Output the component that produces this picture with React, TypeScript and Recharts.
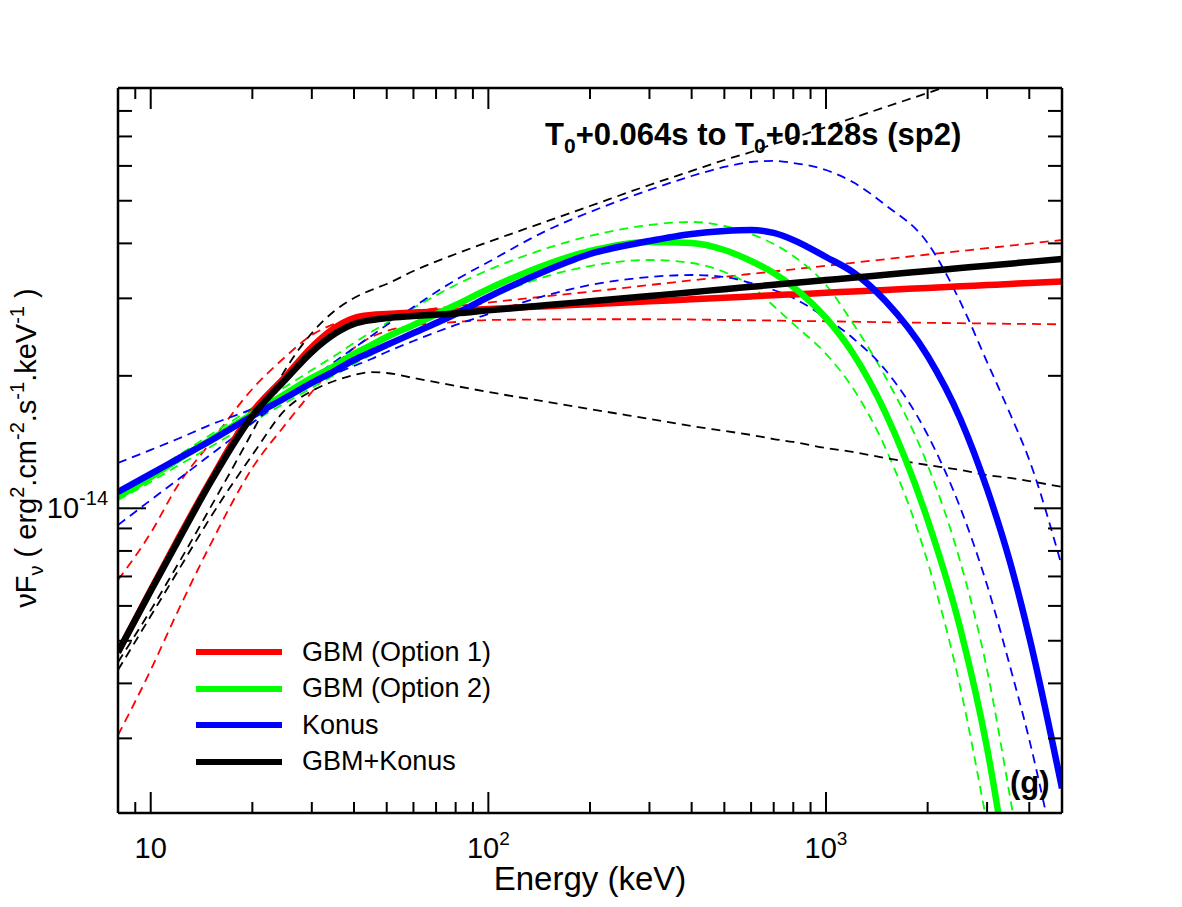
import React from 'react';
import { LineChart, Line, XAxis, YAxis, Legend } from 'recharts';

// energy grid (keV)
const energy = [8, 10, 12, 15, 20, 25, 30, 35, 40, 45, 50, 60, 80, 100, 150, 200, 300, 400, 500, 600, 700, 800, 1000, 1200, 1500, 2000, 2500, 3000, 3500, 4000, 5000];

// nuFnu in units of 1e-14 erg^2 cm^-2 s^-1 keV^-1
const gbm1 = [0.471, 0.652, 0.847, 1.153, 1.655, 1.988, 2.326, 2.570, 2.707, 2.750, 2.764, 2.785, 2.809, 2.838, 2.880, 2.910, 2.954, 2.985, 3.010, 3.031, 3.049, 3.063, 3.089, 3.110, 3.136, 3.169, 3.195, 3.216, 3.234, 3.251, 3.277];
const gbm1Hi = [0.687, 0.879, 1.124, 1.407, 1.867, 2.207, 2.477, 2.624, 2.707, 2.750, 2.779, 2.811, 2.880, 2.935, 3.035, 3.107, 3.217, 3.296, 3.359, 3.410, 3.453, 3.493, 3.557, 3.614, 3.681, 3.774, 3.842, 3.901, 3.952, 3.996, 4.072];
const gbm1Lo = [0.305, 0.429, 0.581, 0.825, 1.235, 1.547, 1.838, 2.106, 2.314, 2.451, 2.529, 2.603, 2.651, 2.679, 2.686, 2.689, 2.689, 2.686, 2.679, 2.675, 2.671, 2.666, 2.661, 2.655, 2.648, 2.640, 2.634, 2.630, 2.626, 2.624, 2.619];

const gbm2 = [1.061, 1.178, 1.288, 1.430, 1.638, 1.819, 1.978, 2.106, 2.243, 2.350, 2.451, 2.610, 2.897, 3.151, 3.592, 3.844, 4.030, 4.009, 3.864, 3.648, 3.426, 3.184, 2.707, 2.254, 1.647, 0.941, 0.532, 0.285, 0.140, null, null];
const gbm2Hi = [1.083, 1.203, 1.315, 1.468, 1.690, 1.887, 2.062, 2.219, 2.375, 2.516, 2.637, 2.853, 3.217, 3.480, 3.905, 4.158, 4.404, 4.474, 4.381, 4.202, 3.987, 3.744, 3.217, 2.637, 1.988, 1.254, 0.755, 0.429, 0.223, 0.122, null];
const gbm2Lo = [1.044, 1.148, 1.248, 1.378, 1.571, 1.735, 1.877, 2.009, 2.128, 2.230, 2.326, 2.489, 2.779, 3.006, 3.373, 3.553, 3.667, 3.610, 3.444, 3.200, 2.883, 2.624, 2.243, 1.877, 1.371, 0.755, 0.391, 0.191, null, null, null];

const konus = [1.089, 1.197, 1.294, 1.422, 1.621, 1.781, 1.927, 2.051, 2.173, 2.266, 2.350, 2.502, 2.764, 3.021, 3.480, 3.784, 4.050, 4.202, 4.268, 4.291, 4.224, 4.072, 3.725, 3.444, 2.959, 2.219, 1.596, 1.106, 0.759, 0.510, 0.231];
const konusA = [1.268, 1.357, 1.437, 1.547, 1.681, 1.809, 1.916, 2.020, 2.106, 2.184, 2.266, 2.400, 2.610, 2.764, 3.053, 3.217, 3.355, 3.390, 3.355, 3.251, 3.134, 3.006, 2.707, 2.438, 2.062, 1.468, 1.002, 0.669, 0.440, 0.298, 0.136];
const konusB = [0.916, 1.044, 1.160, 1.322, 1.563, 1.781, 1.978, 2.150, 2.314, 2.464, 2.610, 2.867, 3.303, 3.629, 4.291, 4.714, 5.290, 5.691, 5.966, 6.124, 6.157, 6.093, 5.873, 5.514, 4.890, 4.009, 2.944, 2.150, 1.647, 1.288, 0.736];

const joint = [0.471, 0.649, 0.838, 1.142, 1.621, 1.957, 2.266, 2.489, 2.624, 2.679, 2.707, 2.735, 2.772, 2.817, 2.897, 2.954, 3.037, 3.098, 3.148, 3.187, 3.221, 3.251, 3.301, 3.343, 3.394, 3.462, 3.515, 3.560, 3.597, 3.631, 3.687];
const jointHi = [0.447, 0.587, 0.743, 1.002, 1.491, 2.062, 2.502, 2.807, 3.006, 3.134, 3.234, 3.462, 3.784, 4.030, 4.498, 4.864, 5.430, 5.843, 6.188, 6.453, 6.730, 6.944, 7.355, 7.709, 8.166, 8.788, 9.309, null, null, null, null];
const jointLo = [0.429, 0.569, 0.717, 0.951, 1.322, 1.673, 1.848, 1.947, 2.009, 2.040, 2.030, 1.978, 1.897, 1.838, 1.744, 1.681, 1.596, 1.538, 1.499, 1.468, 1.437, 1.415, 1.371, 1.343, 1.301, 1.254, 1.222, 1.190, 1.172, 1.153, 1.118];

const xTicks = [9, 10, 20, 30, 40, 50, 60, 70, 80, 90, 100, 200, 300, 400, 500, 600, 700, 800, 900, 1000, 2000, 3000, 4000];
const xLabels: Record<number, string> = { 10: '', 100: '2', 1000: '3' };
const yTicks = [0.3, 0.4, 0.5, 0.6, 0.7, 0.8, 0.9, 1, 2, 3, 4, 5, 6, 7, 8];

const data = energy.map((e, i) => ({
  e,
  gbm1: gbm1[i], gbm1Hi: gbm1Hi[i], gbm1Lo: gbm1Lo[i],
  gbm2: gbm2[i], gbm2Hi: gbm2Hi[i], gbm2Lo: gbm2Lo[i],
  konus: konus[i], konusA: konusA[i], konusB: konusB[i],
  joint: joint[i], jointHi: jointHi[i], jointLo: jointLo[i],
}));

const dashed = [
  { key: 'gbm1Hi', color: '#ff0000' },
  { key: 'gbm1Lo', color: '#ff0000' },
  { key: 'gbm2Hi', color: '#00ff00' },
  { key: 'gbm2Lo', color: '#00ff00' },
  { key: 'konusA', color: '#0000ff' },
  { key: 'konusB', color: '#0000ff' },
  { key: 'jointHi', color: '#000000' },
  { key: 'jointLo', color: '#000000' },
];

const solid = [
  { key: 'gbm1', color: '#ff0000', name: 'GBM (Option 1)' },
  { key: 'gbm2', color: '#00ff00', name: 'GBM (Option 2)' },
  { key: 'konus', color: '#0000ff', name: 'Konus' },
  { key: 'joint', color: '#000000', name: 'GBM+Konus' },
];
const legendNames = solid.map((s) => s.name);

const FONT = '"Liberation Sans", Arial, Helvetica, sans-serif';

const BottomTick = (props: any) => {
  const { x, y, payload } = props;
  const exp = xLabels[payload.value];
  const major = exp !== undefined;
  return (
    <g>
      <line x1={x} x2={x} y1={y} y2={y - (major ? 21 : 11)} stroke="#000" strokeWidth={2} />
      {major && (
        <text x={x} y={y + 45} textAnchor="middle" fontSize={29} fontFamily={FONT} fill="#000">
          10{exp ? <tspan dy={-13} fontSize={19}>{exp}</tspan> : null}
        </text>
      )}
    </g>
  );
};

const TopTick = (props: any) => {
  const { x, y, payload } = props;
  const major = xLabels[payload.value] !== undefined;
  return <line x1={x} x2={x} y1={y} y2={y + (major ? 21 : 11)} stroke="#000" strokeWidth={2} />;
};

const LeftTick = (props: any) => {
  const { x, y, payload } = props;
  const major = payload.value === 1;
  return (
    <g>
      <line x1={x} x2={x + (major ? 28 : 14)} y1={y} y2={y} stroke="#000" strokeWidth={2} />
      {major && (
        <text x={x - 10} y={y + 10} textAnchor="end" fontSize={29} fontFamily={FONT} fill="#000">
          10<tspan dy={-13} fontSize={20}>-14</tspan>
        </text>
      )}
    </g>
  );
};

const RightTick = (props: any) => {
  const { x, y, payload } = props;
  const major = payload.value === 1;
  return <line x1={x} x2={x - (major ? 28 : 14)} y1={y} y2={y} stroke="#000" strokeWidth={2} />;
};

const renderLegend = (props: any) => {
  const items = (props.payload || [])
    .filter((p: any) => legendNames.includes(p.value))
    .sort((a: any, b: any) => legendNames.indexOf(a.value) - legendNames.indexOf(b.value));
  return (
    <div style={{ fontFamily: FONT, fontSize: 27, color: '#000' }}>
      {items.map((p: any) => (
        <div key={p.value} style={{ display: 'flex', alignItems: 'center', height: 36.5 }}>
          <span style={{ display: 'inline-block', width: 86, height: 6, background: p.color, marginRight: 20 }} />
          <span>{p.value}</span>
        </div>
      ))}
    </div>
  );
};

const axisLine = { stroke: '#000', strokeWidth: 2.5 };

export default function App() {
  return (
    <div style={{ position: 'absolute', left: 0, top: 0, width: 1182, height: 907, background: '#fff' }}>
      <LineChart width={1182} height={907} data={data} margin={{ top: 68, right: 100, bottom: 14, left: 18 }}>
        <XAxis xAxisId="b" dataKey="e" type="number" scale="log" domain={[8, 5000]} allowDataOverflow
          ticks={xTicks} interval={0} tickSize={0} tickMargin={0} tickLine={false} axisLine={axisLine}
          tick={BottomTick} height={80} />
        <XAxis xAxisId="t" dataKey="e" orientation="top" type="number" scale="log" domain={[8, 5000]} allowDataOverflow
          ticks={xTicks} interval={0} tickSize={0} tickMargin={0} tickLine={false} axisLine={axisLine}
          tick={TopTick} height={20} />
        <YAxis yAxisId="l" type="number" scale="log" domain={[0.203, 9.02]} allowDataOverflow
          ticks={yTicks} interval={0} tickSize={0} tickMargin={0} tickLine={false} axisLine={axisLine}
          tick={LeftTick} width={100} />
        <YAxis yAxisId="r" orientation="right" type="number" scale="log" domain={[0.203, 9.02]} allowDataOverflow
          ticks={yTicks} interval={0} tickSize={0} tickMargin={0} tickLine={false} axisLine={axisLine}
          tick={RightTick} width={20} />
        {dashed.map((s) => (
          <Line key={s.key} xAxisId="b" yAxisId="l" dataKey={s.key} type="monotone" stroke={s.color}
            strokeWidth={1.8} strokeDasharray="9 6" dot={false} activeDot={false} legendType="none"
            isAnimationActive={false} />
        ))}
        {solid.map((s) => (
          <Line key={s.key} xAxisId="b" yAxisId="l" dataKey={s.key} name={s.name} type="monotone" stroke={s.color}
            strokeWidth={6.5} dot={false} activeDot={false} isAnimationActive={false} />
        ))}
        <Legend layout="vertical" align="center" verticalAlign="middle" content={renderLegend}
          wrapperStyle={{ left: 196, top: 634, width: 320, height: 146 }} />
      </LineChart>
      <svg width={1182} height={907} style={{ position: 'absolute', left: 0, top: 0, pointerEvents: 'none' }}
        fontFamily={FONT} fill="#000">
        <text x={545} y={145} fontSize={31} fontWeight="bold">
          T<tspan dy={8} fontSize={21}>0</tspan><tspan dy={-8}>{'+0.064s to T'}</tspan>
          <tspan dy={8} fontSize={21}>0</tspan><tspan dy={-8}>{'+0.128s (sp2)'}</tspan>
        </text>
        <text x={1010} y={793} fontSize={31} fontWeight="bold">(g)</text>
        <text x={590} y={890} fontSize={33} textAnchor="middle">Energy (keV)</text>
        <text transform="rotate(-90 36 448)" x={36} y={448} fontSize={29} textAnchor="middle">
          {'νF'}<tspan dy={7} fontSize={20}>ν</tspan><tspan dy={-7}>{' ( erg'}</tspan>
          <tspan dy={-12} fontSize={20}>2</tspan><tspan dy={12}>.cm</tspan>
          <tspan dy={-12} fontSize={20}>-2</tspan><tspan dy={12}>.s</tspan>
          <tspan dy={-12} fontSize={20}>-1</tspan><tspan dy={12}>.keV</tspan>
          <tspan dy={-12} fontSize={20}>-1</tspan><tspan dy={12}>{' )'}</tspan>
        </text>
      </svg>
    </div>
  );
}
